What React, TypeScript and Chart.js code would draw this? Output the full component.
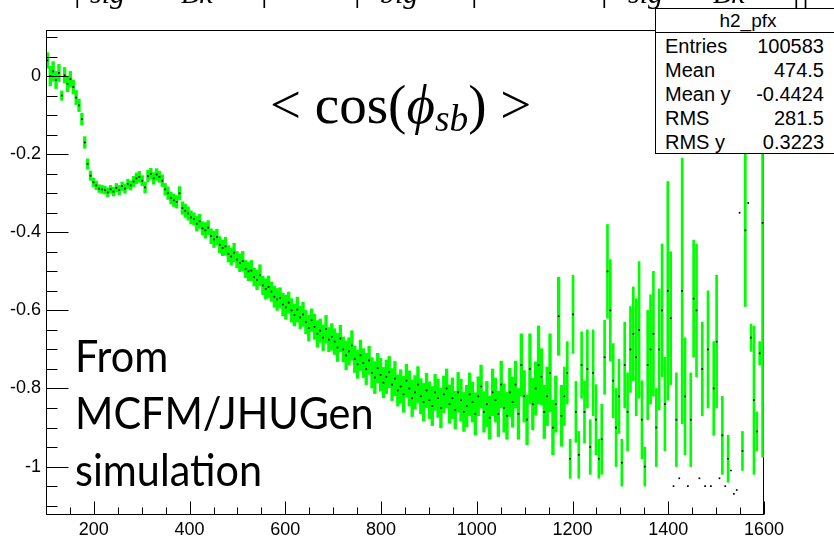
import React, { useEffect, useRef } from "react";
import { Chart, registerables } from "chart.js";

Chart.register(...registerables);

// ---- axis ranges / binning ----
const X_MIN = 100;
const X_MAX = 1600;
const Y_MIN = -1.124;
const Y_MAX = 0.118;
const BIN_WIDTH = 6;
const SPARSE_FROM = 1180;

// ---- profile means per bin ----
const MEANS: number[] = [
  0.04, 0.0, 0.012, -0.01, 0.008, -0.05, 0.002, -0.02, -0.008, -0.028,
  -0.055, -0.075, -0.11, -0.17, -0.225, -0.255, -0.272, -0.28, -0.288, -0.29,
  -0.292, -0.298, -0.29, -0.296, -0.286, -0.292, -0.282, -0.288, -0.276, -0.28,
  -0.27, -0.262, -0.258, -0.268, -0.285, -0.256, -0.25, -0.262, -0.252, -0.258,
  -0.268, -0.29, -0.3, -0.312, -0.318, -0.322, -0.3, -0.338, -0.345, -0.352,
  -0.362, -0.366, -0.378, -0.372, -0.39, -0.395, -0.388, -0.41, -0.418, -0.412,
  -0.432, -0.44, -0.436, -0.455, -0.462, -0.452, -0.47, -0.478, -0.474, -0.494,
  -0.5, -0.498, -0.515, -0.522, -0.51, -0.536, -0.545, -0.54, -0.552, -0.565,
  -0.572, -0.568, -0.585, -0.592, -0.58, -0.6, -0.612, -0.598, -0.618, -0.61,
  -0.63, -0.645, -0.625, -0.642, -0.66, -0.652, -0.67, -0.648, -0.675, -0.668,
  -0.68, -0.695, -0.672, -0.7, -0.715, -0.705, -0.69, -0.725, -0.738, -0.715,
  -0.735, -0.75, -0.728, -0.76, -0.772, -0.748, -0.765, -0.785, -0.77, -0.758,
  -0.79, -0.775, -0.805, -0.795, -0.815, -0.78, -0.8, -0.825, -0.81, -0.79,
  -0.82, -0.835, -0.805, -0.83, -0.845, -0.81, -0.825, -0.85, -0.815, -0.8,
  -0.84, -0.825, -0.855, -0.81, -0.83, -0.86, -0.845, -0.815, -0.835, -0.865,
  -0.82, -0.795, -0.86, -0.84, -0.875, -0.81, -0.83, -0.865, -0.79, -0.85,
  -0.87, -0.81, -0.835, -0.79, -0.865, -0.74, -0.82, -0.88, -0.75, -0.84,
  -0.8, -0.74, -0.77, -0.86, -0.82, -0.76, -0.9, -0.84, -0.615, -0.87,
  -0.82, -0.76, -0.98, -0.61, -0.86, -0.97, -0.74, -0.86, -0.75, -0.95,
  -0.76, -0.88, -0.98, -0.93, -0.72, -0.5, -0.6, -0.78, -0.9, -0.82,
  -0.99, -0.74, -0.86, -0.7, -0.66, -0.72, -0.65, -0.88, -1.0, -0.74,
  -0.7, -0.66, -0.9, -0.7, -0.6, -0.84, -0.55, -0.62, -1.05, -0.88,
  -1.03, -0.55, -0.82, -1.05, -0.88, -0.57, -0.6, -1.03, -0.75, -1.05,
  -0.7, -1.05, -0.8, -0.68, -1.03, -0.92, -1.05, -0.98, -1.01, -1.07,
  -1.06, -0.35, -0.96, -0.395, -0.325, -0.67, -0.83, -0.91, -0.71, -0.376,
];

// ---- error on the mean per bin ----
const ERRORS: number[] = [
  0.02, 0.025, 0.025, 0.022, 0.022, 0.012, 0.02, 0.02, 0.02, 0.018,
  0.018, 0.016, 0.015, 0.015, 0.013, 0.012, 0.011, 0.011, 0.01, 0.01,
  0.01, 0.011, 0.01, 0.011, 0.011, 0.012, 0.011, 0.012, 0.012, 0.012,
  0.013, 0.014, 0.014, 0.013, 0.014, 0.015, 0.014, 0.015, 0.015, 0.014,
  0.015, 0.015, 0.016, 0.015, 0.016, 0.016, 0.017, 0.016, 0.017, 0.017,
  0.017, 0.016, 0.019, 0.018, 0.017, 0.02, 0.018, 0.019, 0.021, 0.02,
  0.021, 0.02, 0.023, 0.021, 0.022, 0.024, 0.021, 0.023, 0.025, 0.022,
  0.024, 0.026, 0.023, 0.025, 0.027, 0.024, 0.026, 0.028, 0.025, 0.027,
  0.028, 0.026, 0.029, 0.031, 0.027, 0.03, 0.028, 0.032, 0.029, 0.031,
  0.03, 0.033, 0.029, 0.032, 0.034, 0.03, 0.033, 0.035, 0.031, 0.034,
  0.033, 0.036, 0.034, 0.032, 0.037, 0.035, 0.038, 0.034, 0.036, 0.039,
  0.037, 0.04, 0.036, 0.039, 0.041, 0.038, 0.042, 0.039, 0.043, 0.04,
  0.041, 0.044, 0.04, 0.043, 0.046, 0.042, 0.045, 0.047, 0.043, 0.046,
  0.045, 0.048, 0.044, 0.047, 0.05, 0.046, 0.049, 0.051, 0.047, 0.05,
  0.049, 0.052, 0.048, 0.051, 0.054, 0.05, 0.053, 0.055, 0.051, 0.054,
  0.05, 0.055, 0.052, 0.058, 0.055, 0.06, 0.056, 0.058, 0.06, 0.062,
  0.06, 0.062, 0.064, 0.06, 0.065, 0.08, 0.066, 0.064, 0.09, 0.066,
  0.068, 0.1, 0.072, 0.068, 0.075, 0.1, 0.07, 0.072, 0.1, 0.078,
  0.075, 0.08, 0.05, 0.1, 0.078, 0.06, 0.085, 0.08, 0.1, 0.07,
  0.11, 0.09, 0.05, 0.09, 0.095, 0.12, 0.13, 0.095, 0.1, 0.095,
  0.06, 0.11, 0.1, 0.11, 0.12, 0.15, 0.175, 0.1, 0.05, 0.14,
  0.14, 0.16, 0.1, 0.155, 0.17, 0.12, 0.28, 0.17, 0, 0.12,
  0, 0.34, 0.15, 0, 0.12, 0.15, 0.17, 0, 0.12, 0,
  0.15, 0, 0.12, 0.17, 0, 0.1, 0, 0.06, 0, 0,
  0, 0, 0.05, 0.195, 0, 0.035, 0.19, 0.05, 0.03, 0.6,
];

// ---- ticks ----
const X_MAJOR_STEP = 200;
const X_MINOR_STEP = 50;
const Y_MAJOR_STEP = 0.2;
const Y_MINOR_STEP = 0.05;

// ---- stats box ----
const STAT_TITLE = "h2_pfx";
const STAT_NAMES = ["Entries", "Mean", "Mean y", "RMS", "RMS y"];
const STAT_VALUES = ["100583", "474.5", "-0.4424", "281.5", "0.3223"];

// ---- annotations ----
const NOTE_LINES = ["From", "MCFM/JHUGen", "simulation"];

const GREEN = "#00ff00";

const rootAxesPlugin = {
  id: "rootAxes",
  beforeDatasetsDraw(chart: any) {
    const { ctx, chartArea } = chart;
    const { left, right, top, bottom } = chartArea;
    ctx.save();
    ctx.strokeStyle = "#000";
    ctx.lineWidth = 1;
    ctx.beginPath();
    ctx.moveTo(Math.round(left) + 0.5, Math.round(top) + 0.5);
    ctx.lineTo(Math.round(right) - 0.5, Math.round(top) + 0.5);
    ctx.lineTo(Math.round(right) - 0.5, Math.round(bottom) - 0.5);
    ctx.stroke();
    ctx.restore();
  },
  afterDatasetsDraw(chart: any) {
    const { ctx, chartArea, scales } = chart;
    const { right, top, bottom, left } = chartArea;
    const xs = scales.x;
    const ys = scales.y;
    const L = Math.round(left) + 0.5;
    const B = Math.round(bottom) - 0.5;
    ctx.save();
    ctx.strokeStyle = "#000";
    ctx.lineWidth = 1;
    ctx.beginPath();
    ctx.moveTo(L, Math.round(top));
    ctx.lineTo(L, B);
    ctx.lineTo(Math.round(right), B);
    const kStart = Math.ceil(Y_MIN / Y_MINOR_STEP - 1e-6);
    const kEnd = Math.floor(Y_MAX / Y_MINOR_STEP + 1e-6);
    for (let k = kStart; k <= kEnd; k++) {
      const v = k * Y_MINOR_STEP;
      const py = Math.round(ys.getPixelForValue(v)) + 0.5;
      const major = Math.abs(v / Y_MAJOR_STEP - Math.round(v / Y_MAJOR_STEP)) < 1e-6;
      const len = major ? 22 : 11;
      ctx.moveTo(L, py);
      ctx.lineTo(L + len, py);
    }
    for (let v = X_MIN; v <= X_MAX + 1e-6; v += X_MINOR_STEP) {
      const px = Math.round(xs.getPixelForValue(v)) + 0.5;
      const major = v % X_MAJOR_STEP === 0;
      const len = major ? 13 : 7;
      ctx.moveTo(px, B);
      ctx.lineTo(px, B - len);
    }
    ctx.stroke();
    ctx.restore();
  },
};

export default function App() {
  const canvasRef = useRef<HTMLCanvasElement | null>(null);

  useEffect(() => {
    const canvas = canvasRef.current;
    if (!canvas) return;
    const centers = MEANS.map((_, i) => X_MIN + BIN_WIDTH * (i + 0.5));
    const denseBars: any[] = [];
    const sparseBars: any[] = [];
    MEANS.forEach((m, i) => {
      if (ERRORS[i] <= 0) return;
      const bar = { x: centers[i], y: [m - ERRORS[i], m + ERRORS[i]] };
      if (centers[i] < SPARSE_FROM) denseBars.push(bar);
      else sparseBars.push(bar);
    });
    const points = MEANS.map((m, i) => ({ x: centers[i], y: m }));

    const chart = new Chart(canvas, {
      type: "bar",
      data: {
        datasets: [
          {
            type: "bar",
            data: denseBars,
            backgroundColor: GREEN,
            borderWidth: 0,
            barThickness: 2.7,
            grouped: false,
            clip: 0,
            order: 3,
          } as any,
          {
            type: "bar",
            data: sparseBars,
            backgroundColor: GREEN,
            borderWidth: 0,
            barThickness: 2,
            grouped: false,
            clip: 0,
            order: 2,
          } as any,
          {
            type: "scatter",
            data: points,
            pointStyle: "rect",
            pointRadius: 1.2,
            backgroundColor: "#000",
            borderWidth: 0,
            order: 1,
          } as any,
        ],
      },
      options: {
        animation: false,
        responsive: false,
        maintainAspectRatio: false,
        events: [],
        layout: { padding: { left: 0, top: 30, right: 70, bottom: 0 } },
        plugins: { legend: { display: false }, tooltip: { enabled: false } },
        scales: {
          x: {
            type: "linear",
            min: X_MIN,
            max: X_MAX,
            offset: false,
            grid: { display: false, drawTicks: false },
            border: { display: false },
            ticks: {
              stepSize: X_MAJOR_STEP,
              includeBounds: false,
              autoSkip: false,
              maxRotation: 0,
              padding: 4,
              color: "#000",
              font: { family: "Liberation Sans", size: 18 },
              callback: (v: any) => String(v),
            },
            afterFit: (s: any) => {
              s.height = 23;
            },
          },
          y: {
            type: "linear",
            min: Y_MIN,
            max: Y_MAX,
            grid: { display: false, drawTicks: false },
            border: { display: false },
            ticks: {
              stepSize: Y_MAJOR_STEP,
              includeBounds: false,
              autoSkip: false,
              padding: 5,
              color: "#000",
              font: { family: "Liberation Sans", size: 18 },
              callback: (v: any) => {
                const r = Math.round(Number(v) * 10) / 10;
                return Math.abs(r) < 1e-9 ? "0" : String(r);
              },
            },
            afterFit: (s: any) => {
              s.width = 46;
            },
          },
        },
      } as any,
      plugins: [rootAxesPlugin],
    });
    return () => chart.destroy();
  }, []);

  const fragStyle = (left: number, size: number, top: number): React.CSSProperties => ({
    position: "absolute",
    left,
    top,
    fontFamily: "'Liberation Serif', serif",
    fontStyle: "italic",
    fontSize: size,
    lineHeight: 1,
    whiteSpace: "nowrap",
    color: "#000",
  });

  return (
    <div
      style={{
        position: "fixed",
        left: 0,
        top: 0,
        width: 834,
        height: 538,
        overflow: "hidden",
        background: "#fff",
      }}
    >
      <canvas ref={canvasRef} width={834} height={538} style={{ position: "absolute", left: 0, top: 0 }} />

      {/* cut-off formula fragments at top edge */}
      <div style={fragStyle(72, 34, -27)}>|</div>
      <div style={fragStyle(90, 30, -22)}>sig</div>
      <div style={fragStyle(181, 30, -22)}>Bk</div>
      <div style={fragStyle(259, 34, -27)}>|</div>
      <div style={fragStyle(352, 34, -27)}>|</div>
      <div style={fragStyle(380, 30, -22)}>big</div>
      <div style={fragStyle(469, 34, -27)}>|</div>
      <div style={fragStyle(599, 34, -27)}>|</div>
      <div style={fragStyle(628, 30, -22)}>sig</div>
      <div style={fragStyle(713, 30, -22)}>Bk</div>
      <div style={fragStyle(791, 34, -27)}>||</div>

      {/* <cos(phi_sb)> label */}
      <div
        style={{
          position: "absolute",
          left: 270,
          top: 77,
          fontFamily: "'Liberation Serif', serif",
          fontSize: 55,
          lineHeight: 1,
          whiteSpace: "nowrap",
          color: "#000",
        }}
      >
        {"< cos("}
        <span style={{ fontStyle: "italic" }}>ϕ</span>
        <span style={{ fontStyle: "italic", fontSize: "0.68em", position: "relative", top: "0.22em" }}>sb</span>
        {") >"}
      </div>

      {/* annotation text */}
      {NOTE_LINES.map((t, i) => (
        <div
          key={t}
          style={{
            position: "absolute",
            left: 75,
            top: 333 + i * 57,
            fontFamily: "Lato, 'Open Sans', sans-serif",
            fontSize: 44,
            lineHeight: 1,
            whiteSpace: "nowrap",
            color: "#000",
            transform: "scaleX(0.94)",
            transformOrigin: "0 0",
          }}
        >
          {t}
        </div>
      ))}

      {/* stats box */}
      <div
        style={{
          position: "absolute",
          left: 655,
          top: 8,
          width: 186,
          height: 146,
          boxSizing: "border-box",
          border: "1px solid #000",
          background: "#fff",
          fontFamily: "'Liberation Sans', Arial, sans-serif",
          color: "#000",
        }}
      >
        <div
          style={{
            position: "absolute",
            left: 0,
            top: 0,
            width: "100%",
            height: 23,
            borderBottom: "1px solid #000",
            textAlign: "center",
            fontSize: 19,
            lineHeight: "24px",
          }}
        >
          {STAT_TITLE}
        </div>
        {STAT_NAMES.map((n, i) => (
          <div key={n} style={{ position: "absolute", left: 0, top: 25 + i * 24, width: "100%", height: 24 }}>
            <span style={{ position: "absolute", left: 9, top: 0, fontSize: 20, lineHeight: "24px" }}>{n}</span>
            <span style={{ position: "absolute", right: 16, top: 0, fontSize: 20, lineHeight: "24px", textAlign: "right" }}>
              {STAT_VALUES[i]}
            </span>
          </div>
        ))}
      </div>
    </div>
  );
}
